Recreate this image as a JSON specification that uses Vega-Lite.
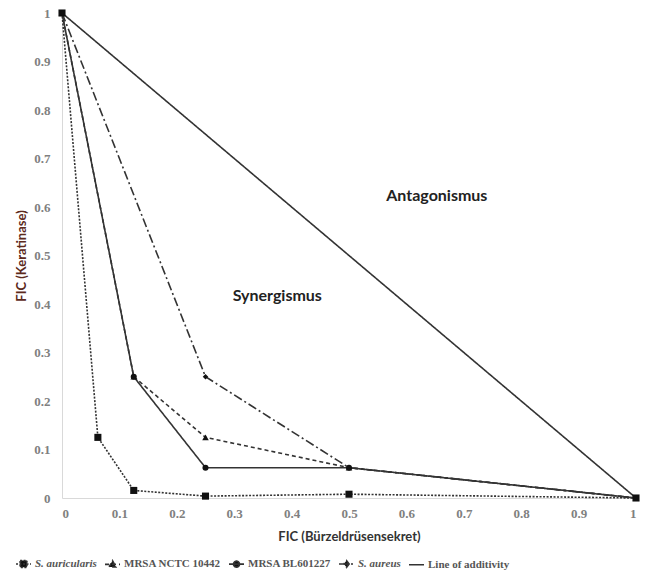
{
  "$schema": "https://vega.github.io/schema/vega-lite/v6.json",
  "width": 574,
  "height": 485,
  "autosize": {"type": "none"},
  "padding": {"left": 62, "top": 13, "right": 10, "bottom": 75},
  "background": "white",
  "config": {"view": {"stroke": null}},
  "datasets": {
    "curves": [
      {"series": "S. auricularis", "x": 0, "y": 1},
      {"series": "S. auricularis", "x": 0.0625, "y": 0.125},
      {"series": "S. auricularis", "x": 0.125, "y": 0.0156},
      {"series": "S. auricularis", "x": 0.25, "y": 0.0039},
      {"series": "S. auricularis", "x": 0.5, "y": 0.0078},
      {"series": "S. auricularis", "x": 1, "y": 0},
      {"series": "MRSA NCTC 10442", "x": 0, "y": 1},
      {"series": "MRSA NCTC 10442", "x": 0.125, "y": 0.25},
      {"series": "MRSA NCTC 10442", "x": 0.25, "y": 0.125},
      {"series": "MRSA NCTC 10442", "x": 0.5, "y": 0.0625},
      {"series": "MRSA NCTC 10442", "x": 1, "y": 0},
      {"series": "MRSA BL601227", "x": 0, "y": 1},
      {"series": "MRSA BL601227", "x": 0.125, "y": 0.25},
      {"series": "MRSA BL601227", "x": 0.25, "y": 0.0625},
      {"series": "MRSA BL601227", "x": 0.5, "y": 0.0625},
      {"series": "MRSA BL601227", "x": 1, "y": 0},
      {"series": "S. aureus", "x": 0, "y": 1},
      {"series": "S. aureus", "x": 0.25, "y": 0.25},
      {"series": "S. aureus", "x": 0.5, "y": 0.0625},
      {"series": "S. aureus", "x": 1, "y": 0},
      {"series": "Line of additivity", "x": 0, "y": 1},
      {"series": "Line of additivity", "x": 1, "y": 0}
    ],
    "labels": [
      {"text": "Antagonismus", "x": 0.653, "y": 0.623},
      {"text": "Synergismus", "x": 0.375, "y": 0.417}
    ]
  },
  "layer": [
    {
      "data": {"name": "curves"},
      "mark": {"type": "line", "color": "#333333", "strokeWidth": 1.6},
      "encoding": {
        "x": {
          "field": "x", "type": "quantitative",
          "scale": {"domain": [0, 1], "nice": false, "zero": false},
          "axis": {
            "title": "FIC (Bürzeldrüsensekret)",
            "values": [0, 0.1, 0.2, 0.3, 0.4, 0.5, 0.6, 0.7, 0.8, 0.9, 1],
            "format": "~g",
            "grid": false, "ticks": false,
            "domainColor": "#d9d9d9", "domainWidth": 1,
            "labelFont": "Liberation Serif", "labelFontSize": 13, "labelFontWeight": "bold", "labelColor": "#808080",
            "labelPadding": 9,
            "titleFont": "Lato", "titleFontSize": 13, "titleFontWeight": "bold", "titleColor": "#333333",
            "titlePadding": 10
          }
        },
        "y": {
          "field": "y", "type": "quantitative",
          "scale": {"domain": [0, 1], "nice": false, "zero": false},
          "axis": {
            "title": "FIC (Keratinase)",
            "values": [0, 0.1, 0.2, 0.3, 0.4, 0.5, 0.6, 0.7, 0.8, 0.9, 1],
            "format": "~g",
            "grid": false, "ticks": false,
            "domainColor": "#d9d9d9", "domainWidth": 1,
            "labelFont": "Liberation Serif", "labelFontSize": 13, "labelFontWeight": "bold", "labelColor": "#808080",
            "labelPadding": 12,
            "titleFont": "Lato", "titleFontSize": 13, "titleFontWeight": "bold", "titleColor": "#5c2a1c",
            "titlePadding": 5
          }
        },
        "detail": {"field": "series"},
        "order": {"field": "x"},
        "strokeDash": {
          "field": "series", "type": "nominal",
          "scale": {
            "domain": ["S. auricularis", "MRSA NCTC 10442", "MRSA BL601227", "S. aureus", "Line of additivity"],
            "range": [[2, 1.5], [4, 3], [1, 0], [9, 3, 2, 3], [1, 0]]
          },
          "legend": {
            "title": null,
            "orient": "none",
            "legendX": -47,
            "legendY": 542,
            "direction": "horizontal",
            "columnPadding": 4,
            "symbolSize": 225,
            "symbolStrokeWidth": 1.6,
            "symbolStrokeColor": "#333333",
            "labelFont": "Liberation Serif",
            "labelFontSize": 11,
            "labelFontWeight": "bold",
            "labelColor": "#555555",
            "labelOffset": 3,
            "encode": {
              "symbols": {
                "update": {
                  "shape": {"signal": "datum.value == 'S. auricularis' ? 'M-1,0H1M-0.45,-0.45H0.45V0.45H-0.45Z' : datum.value == 'MRSA NCTC 10442' ? 'M-1,0H1M0,-0.5L0.45,0.35H-0.45Z' : datum.value == 'MRSA BL601227' ? 'M-1,0H1M-0.4,0A0.4,0.4 0 1,0 0.4,0A0.4,0.4 0 1,0 -0.4,0Z' : datum.value == 'S. aureus' ? 'M-1,0H1M0,-0.45L0.35,0L0,0.45L-0.35,0Z' : 'M-1,0H1'"},
                  "fill": {"value": "#111111"},
                  "stroke": {"value": "#333333"}
                }
              },
              "labels": {
                "update": {
                  "fontStyle": {"signal": "datum.value == 'S. auricularis' || datum.value == 'S. aureus' ? 'italic' : 'normal'"}
                }
              }
            }
          }
        }
      }
    },
    {
      "data": {"name": "curves"},
      "transform": [{"filter": "datum.series != 'Line of additivity'"}],
      "mark": {"type": "point", "filled": true, "color": "#111111", "opacity": 1},
      "encoding": {
        "x": {"field": "x", "type": "quantitative"},
        "y": {"field": "y", "type": "quantitative"},
        "shape": {
          "field": "series", "type": "nominal",
          "scale": {
            "domain": ["S. auricularis", "MRSA NCTC 10442", "MRSA BL601227", "S. aureus"],
            "range": ["square", "triangle-up", "circle", "diamond"]
          },
          "legend": null
        },
        "size": {
          "field": "series", "type": "nominal",
          "scale": {
            "domain": ["S. auricularis", "MRSA NCTC 10442", "MRSA BL601227", "S. aureus"],
            "range": [50, 30, 45, 22]
          },
          "legend": null
        }
      }
    },
    {
      "data": {"name": "labels"},
      "mark": {"type": "text", "font": "Lato", "fontSize": 16, "fontWeight": "bold", "color": "#222222"},
      "encoding": {
        "x": {"field": "x", "type": "quantitative"},
        "y": {"field": "y", "type": "quantitative"},
        "text": {"field": "text"}
      }
    }
  ]
}
